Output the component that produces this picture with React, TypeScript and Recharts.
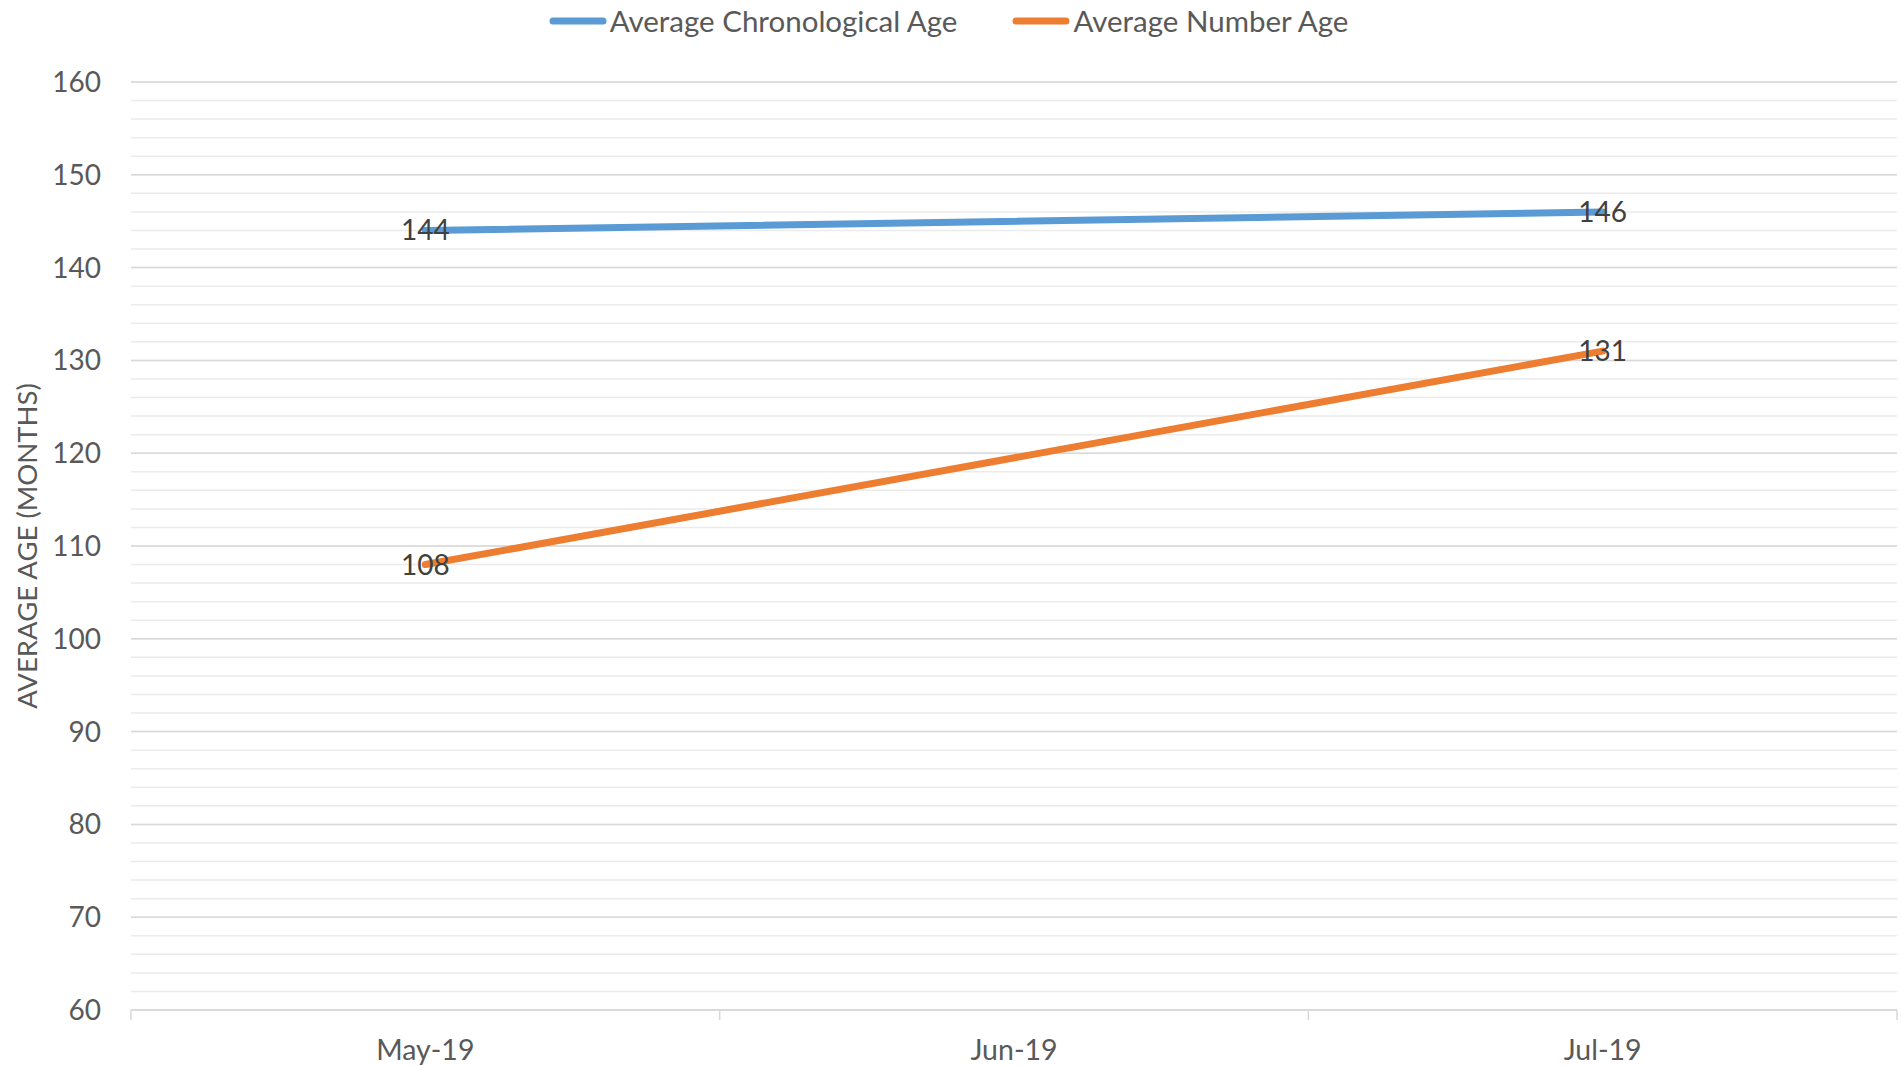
import React from 'react';
import { LineChart, Line, XAxis, YAxis, CartesianGrid, Legend, LabelList } from 'recharts';

const months = ['May-19', 'Jun-19', 'Jul-19'];
const chronologicalAge: (number | null)[] = [144, null, 146];
const numberAge: (number | null)[] = [108, null, 131];

const majorTicks = [60, 70, 80, 90, 100, 110, 120, 130, 140, 150, 160];
const minorTicks = [
  60, 62, 64, 66, 68, 70, 72, 74, 76, 78, 80, 82, 84, 86, 88, 90, 92, 94, 96, 98, 100,
  102, 104, 106, 108, 110, 112, 114, 116, 118, 120, 122, 124, 126, 128, 130, 132, 134,
  136, 138, 140, 142, 144, 146, 148, 150, 152, 154, 156, 158, 160,
];

const FONT = 'Lato, "Open Sans", sans-serif';
const TEXT = '#595959';
const PLOT_BOTTOM = 1010;

const data = months.map((m, i) => ({
  month: m,
  chrono: chronologicalAge[i],
  number: numberAge[i],
}));

const LegendContent = (props: any) => {
  const items = props.payload || [];
  return (
    <div style={{ display: 'flex', justifyContent: 'center', alignItems: 'center', gap: 55, height: 34 }}>
      {items.map((it: any) => (
        <div key={it.value} style={{ display: 'flex', alignItems: 'center' }}>
          <svg width={58} height={10}>
            <line x1={4} y1={5} x2={54} y2={5} stroke={it.color} strokeWidth={7} strokeLinecap="round" />
          </svg>
          <span style={{ fontFamily: FONT, fontSize: 29.5, color: TEXT, marginLeft: 3, lineHeight: '34px' }}>
            {it.value}
          </span>
        </div>
      ))}
    </div>
  );
};

const scaleFn = (scale: any) => (typeof scale === 'function' ? scale : scale.map);

// minor gridlines every 2 months, placed through the y axis scale
const minorGrid = (props: any) => {
  const scale = props?.yAxis?.scale;
  if (!scale) return [];
  const fn = scaleFn(scale);
  return minorTicks.map((v) => fn(v));
};

// tick marks on the category boundaries (Excel style), from the band scale
const edgeGrid = (props: any) => {
  const scale = props?.xAxis?.scale;
  if (!scale) return [];
  const fn = scaleFn(scale);
  const starts = months.map((m) => fn(m));
  const bw = typeof scale.bandwidth === 'function' ? scale.bandwidth() : starts[1] - starts[0];
  return [...starts, starts[starts.length - 1] + bw];
};

export default function App() {
  return (
    <div style={{ position: 'absolute', left: 0, top: 0, background: '#fff' }}>
      <LineChart width={1901} height={1066} data={data} margin={{ top: 48, right: 4, bottom: 0, left: 0 }}>
        <CartesianGrid
          vertical={false}
          horizontalCoordinatesGenerator={minorGrid}
          stroke="#ebebeb"
          strokeWidth={1.5}
        />
        <CartesianGrid vertical={false} stroke="#d9d9d9" strokeWidth={1.5} />
        <CartesianGrid
          horizontal={false}
          y={PLOT_BOTTOM}
          height={10}
          verticalCoordinatesGenerator={edgeGrid}
          stroke="#d9d9d9"
          strokeWidth={1.5}
        />
        <XAxis
          dataKey="month"
          scale="band"
          height={56}
          axisLine={{ stroke: '#d9d9d9', strokeWidth: 1.5 }}
          tickLine={false}
          tickMargin={24}
          tick={{ fill: TEXT, fontSize: 28.5, fontFamily: FONT }}
        />
        <YAxis
          domain={[60, 160]}
          ticks={majorTicks}
          width={131}
          axisLine={false}
          tickLine={false}
          tickMargin={24}
          tick={{ fill: TEXT, fontSize: 28, fontFamily: FONT }}
          label={{
            value: 'AVERAGE AGE (MONTHS)',
            angle: -90,
            position: 'insideLeft',
            offset: 27,
            style: { fill: TEXT, fontSize: 27.5, fontFamily: FONT, textAnchor: 'middle' },
          }}
        />
        <Legend verticalAlign="top" wrapperStyle={{ top: 4 }} content={<LegendContent />} />
        <Line
          name="Average Chronological Age"
          dataKey="chrono"
          stroke="#5b9bd5"
          strokeWidth={7}
          strokeLinecap="round"
          dot={false}
          activeDot={false}
          connectNulls
          isAnimationActive={false}
        >
          <LabelList dataKey="chrono" position="center" fill="#404040" fontSize={28} fontFamily={FONT} />
        </Line>
        <Line
          name="Average Number Age"
          dataKey="number"
          stroke="#ed7d31"
          strokeWidth={7}
          strokeLinecap="round"
          dot={false}
          activeDot={false}
          connectNulls
          isAnimationActive={false}
        >
          <LabelList dataKey="number" position="center" fill="#404040" fontSize={28} fontFamily={FONT} />
        </Line>
      </LineChart>
    </div>
  );
}
